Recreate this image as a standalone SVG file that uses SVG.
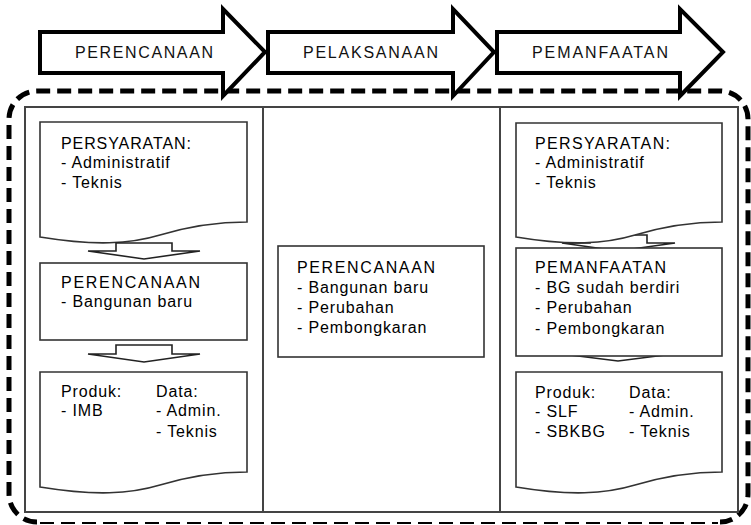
<svg xmlns="http://www.w3.org/2000/svg" width="751" height="525" viewBox="0 0 751 525">
<style>
.bg{fill:#fff}
.big{fill:#fff;stroke:#000;stroke-width:4;stroke-linejoin:miter}
.lbl{font-family:"Liberation Sans",Arial,sans-serif;font-size:16px;fill:#111}
.box{fill:#fff;stroke:#333;stroke-width:1.6}
.conn{fill:#fff;stroke:#222;stroke-width:1.6;stroke-linejoin:miter}
.t{font-family:"Liberation Sans",Arial,sans-serif;font-size:16px;fill:#000;letter-spacing:0.85px}
.h{font-family:"Liberation Sans",Arial,sans-serif;font-size:16px;fill:#000}
.frame{fill:none;stroke:#444;stroke-width:2}
.dash{fill:none;stroke:#000;stroke-width:5;stroke-dasharray:14 7}
.dashthin{fill:none;stroke:#000;stroke-width:2.2;stroke-dasharray:14 7}
</style>
<rect class="bg" x="0" y="0" width="751" height="525"/>

<g id="border">
<path class="dash" d="M37,522 A28,28 0 0 1 9,494 V119 A28,28 0 0 1 37,91 H720 A28,28 0 0 1 748,119 V494 A28,28 0 0 1 720,522"/>
<path class="dashthin" d="M40,523 H718"/>
</g>

<g id="phase-arrows">
<g id="arrow-perencanaan">
<path class="big" d="M40,32 H223 V9 L265,52 L223,96 V73 H40 Z"/>
<text class="lbl" x="75" y="58" textLength="138" lengthAdjust="spacing">PERENCANAAN</text>
</g>
<g id="arrow-pelaksanaan">
<path class="big" d="M268,32 H453 V9 L494,52 L453,96 V73 H268 Z"/>
<text class="lbl" x="303" y="58" textLength="135" lengthAdjust="spacing">PELAKSANAAN</text>
</g>
<g id="arrow-pemanfaatan">
<path class="big" d="M497,32 H680 V9 L723,52 L680,96 V73 H497 Z"/>
<text class="lbl" x="532" y="58" textLength="136" lengthAdjust="spacing">PEMANFAATAN</text>
</g>
</g>

<g id="container">
<rect class="frame" x="25" y="107" width="713" height="405"/>
<line class="frame" x1="263" y1="107" x2="263" y2="512"/>
<line class="frame" x1="500" y1="107" x2="500" y2="512"/>
</g>

<g id="left-persyaratan">
<path class="box" d="M40,122 H247 V222 C215,222 190,226 160,235 C130,244 95,246 40,237 Z"/>
<text class="h" x="61" y="149" textLength="130" lengthAdjust="spacing">PERSYARATAN:</text>
<text class="t" x="61" y="168">- Administratif</text>
<text class="t" x="61" y="188">- Teknis</text>
</g>

<g id="connectors">
<path class="conn" d="M116,243 H172 V251 H200 L144,259 L88,251 H116 Z"/>
<path class="conn" d="M116,345 H172 V354 H200 L144,362 L88,354 H116 Z"/>
<path class="conn" d="M590,235 H647 V243 H675 L618,251 L562,243 H590 Z"/>
<path class="conn" d="M590,346 H647 V354 H673 L618,361 L562,354 H590 Z"/>
</g>

<g id="left-perencanaan">
<rect class="box" x="40" y="263" width="207" height="77"/>
<text class="h" x="61" y="288" textLength="139" lengthAdjust="spacing">PERENCANAAN</text>
<text class="t" x="61" y="307">- Bangunan baru</text>
</g>

<g id="left-produk">
<path class="box" d="M40,372 H247 V472 C215,472 190,476 160,485 C130,494 95,496 40,487 Z"/>
<text class="t" x="61" y="397">Produk:</text>
<text class="t" x="61" y="416">- IMB</text>
<text class="t" x="156" y="397">Data:</text>
<text class="t" x="156" y="416">- Admin.</text>
<text class="t" x="156" y="437">- Teknis</text>
</g>

<g id="mid-perencanaan">
<rect class="box" x="278" y="246" width="206" height="111"/>
<text class="h" x="297" y="273" textLength="138" lengthAdjust="spacing">PERENCANAAN</text>
<text class="t" x="297" y="293">- Bangunan baru</text>
<text class="t" x="297" y="313">- Perubahan</text>
<text class="t" x="297" y="333">- Pembongkaran</text>
</g>

<g id="right-persyaratan">
<path class="box" d="M516,123 H722 V222 C690,222 665,226 635,235 C605,244 570,246 516,237 Z"/>
<text class="h" x="535" y="149" textLength="135" lengthAdjust="spacing">PERSYARATAN:</text>
<text class="t" x="535" y="168">- Administratif</text>
<text class="t" x="535" y="188">- Teknis</text>
</g>

<g id="right-pemanfaatan">
<rect class="box" x="516" y="248" width="206" height="108"/>
<text class="h" x="535" y="273" textLength="131" lengthAdjust="spacing">PEMANFAATAN</text>
<text class="t" x="535" y="293">- BG sudah berdiri</text>
<text class="t" x="535" y="313">- Perubahan</text>
<text class="t" x="535" y="334">- Pembongkaran</text>
</g>

<g id="right-produk">
<path class="box" d="M516,372 H722 V472 C690,472 665,476 635,485 C605,494 570,496 516,487 Z"/>
<text class="t" x="535" y="398">Produk:</text>
<text class="t" x="535" y="417">- SLF</text>
<text class="t" x="535" y="437">- SBKBG</text>
<text class="t" x="629" y="398">Data:</text>
<text class="t" x="629" y="417">- Admin.</text>
<text class="t" x="629" y="437">- Teknis</text>
</g>
</svg>
